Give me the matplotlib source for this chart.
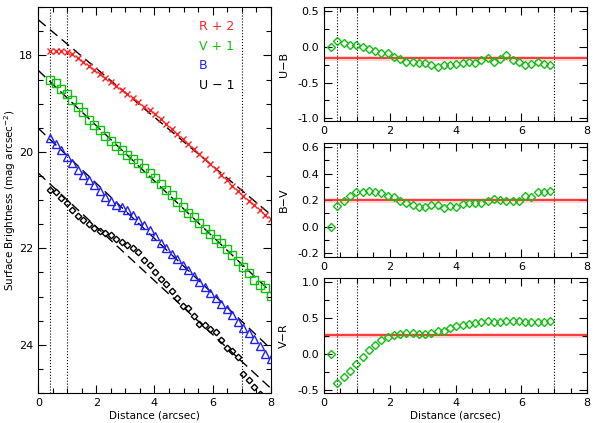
import matplotlib.pyplot as plt
from matplotlib.ticker import MultipleLocator

# radial sampling (arcsec)
radius = [0.22, 0.41, 0.60, 0.79, 0.98, 1.17, 1.36, 1.55, 1.74, 1.93,
          2.12, 2.31, 2.50, 2.69, 2.88, 3.07, 3.26, 3.45, 3.64, 3.83,
          4.02, 4.21, 4.40, 4.59, 4.78, 4.97, 5.16, 5.35, 5.54, 5.73,
          5.92, 6.11, 6.30, 6.49, 6.68, 6.87, 7.06, 7.25, 7.44, 7.63,
          7.82, 8.01]

# surface brightness profiles (offset), start at radius[1]
r_mag = [17.90, 17.90, 17.91, 17.93, 17.98, 18.06, 18.14, 18.22, 18.30, 18.39,
         18.47, 18.55, 18.63, 18.71, 18.80, 18.88, 18.97, 19.06, 19.14, 19.22,
         19.32, 19.42, 19.53, 19.63, 19.73, 19.84, 19.94, 20.04, 20.15, 20.25,
         20.36, 20.47, 20.59, 20.70, 20.81, 20.92, 21.02, 21.11, 21.20, 21.30,
         21.39]
v_mag = [18.50, 18.57, 18.69, 18.80, 18.92, 19.07, 19.17, 19.33, 19.45, 19.55,
         19.66, 19.77, 19.87, 19.97, 20.06, 20.15, 20.24, 20.34, 20.44, 20.55,
         20.66, 20.78, 20.90, 21.03, 21.15, 21.26, 21.36, 21.47, 21.59, 21.70,
         21.80, 21.89, 22.01, 22.13, 22.26, 22.39, 22.52, 22.65, 22.75, 22.83,
         22.99]
b_mag = [19.71, 19.84, 19.96, 20.10, 20.22, 20.37, 20.48, 20.59, 20.69, 20.82,
         20.93, 21.02, 21.10, 21.15, 21.21, 21.31, 21.41, 21.51, 21.62, 21.74,
         21.88, 21.99, 22.11, 22.23, 22.34, 22.45, 22.57, 22.70, 22.81, 22.92,
         23.03, 23.15, 23.26, 23.39, 23.52, 23.65, 23.75, 23.87, 24.03, 24.19,
         24.30]
u_mag = [20.80, 20.84, 20.95, 21.07, 21.20, 21.32, 21.42, 21.50, 21.58, 21.63,
         21.69, 21.73, 21.80, 21.87, 21.94, 22.00, 22.08, 22.25, 22.35, 22.49,
         22.63, 22.74, 22.88, 23.03, 23.19, 23.24, 23.40, 23.56, 23.60, 23.67,
         23.74, 23.90, 24.06, 24.13, 24.26, 24.60, 24.74, 24.88, 25.02]

# linear fits: value at 0 and at 8 arcsec
fit_start = [17.26, 18.31, 19.51, 20.44]
fit_end = [21.30, 22.90, 24.08, 24.90]

# colour profiles, start at radius[0]
ub = [0.00, 0.08, 0.06, 0.03, 0.03, 0.00, -0.03, -0.06, -0.09, -0.09,
      -0.14, -0.17, -0.21, -0.21, -0.22, -0.22, -0.25, -0.28, -0.25, -0.26,
      -0.24, -0.22, -0.21, -0.22, -0.19, -0.15, -0.21, -0.17, -0.12, -0.19,
      -0.21, -0.25, -0.24, -0.21, -0.24, -0.25]
bv = [0.00, 0.155, 0.19, 0.23, 0.26, 0.26, 0.27, 0.26, 0.25, 0.23,
      0.225, 0.19, 0.175, 0.16, 0.15, 0.15, 0.16, 0.16, 0.14, 0.155,
      0.15, 0.17, 0.175, 0.175, 0.18, 0.19, 0.21, 0.20, 0.195, 0.195,
      0.195, 0.23, 0.225, 0.26, 0.26, 0.27]
vr = [0.00, -0.40, -0.32, -0.24, -0.14, -0.04, 0.05, 0.12, 0.19, 0.23,
      0.26, 0.28, 0.29, 0.29, 0.28, 0.28, 0.29, 0.31, 0.32, 0.36,
      0.38, 0.40, 0.41, 0.43, 0.44, 0.45, 0.44, 0.44, 0.45, 0.46,
      0.45, 0.44, 0.44, 0.44, 0.44, 0.46]
mean_colours = [-0.16, 0.20, 0.26]
colour_names = ['U\u2212B', 'B\u2212V', 'V\u2212R']

rings = [0.4, 1.0, 7.0]

red = '#ff2020'
green = '#10c010'
blue = '#2020ff'

fig = plt.figure(figsize=(5.98, 4.23), dpi=100)


def style_axis(ax, xminor, ymajor, yminor):
    ax.set_xlim(0, 8)
    ax.xaxis.set_major_locator(MultipleLocator(2))
    ax.xaxis.set_minor_locator(MultipleLocator(xminor))
    ax.yaxis.set_major_locator(MultipleLocator(ymajor))
    ax.yaxis.set_minor_locator(MultipleLocator(yminor))
    ax.tick_params(which='both', direction='in', top=True, right=True,
                   labelsize=8, width=0.8)
    ax.tick_params(which='major', length=6)
    ax.tick_params(which='minor', length=3.5)
    for s in ax.spines.values():
        s.set_linewidth(0.8)
    for r in rings:
        ax.axvline(r, color='k', ls=':', lw=0.8)


# ---- left panel: surface brightness profiles
ax = fig.add_axes([0.064, 0.0709, 0.3886, 0.912])
style_axis(ax, 0.5, 2, 0.5)
ax.set_ylim(25, 17)

for y0, y1 in zip(fit_start, fit_end):
    ax.plot([0, 8], [y0, y1], color='k', lw=1.0, dashes=(7, 4))

ax.plot(radius[1:1 + len(r_mag)], r_mag, ls='none', marker='x', ms=5,
        mec=red, mew=1.0)
ax.plot(radius[1:1 + len(v_mag)], v_mag, ls='none', marker='s', ms=6,
        mfc='none', mec=green, mew=1.0)
ax.plot(radius[1:1 + len(b_mag)], b_mag, ls='none', marker='^', ms=5.5,
        mfc='none', mec=blue, mew=1.0)
ax.plot(radius[1:1 + len(u_mag)], u_mag, ls='none', marker='D', ms=3.3,
        mfc='none', mec='k', mew=1.0)

ax.text(0.69, 0.949, 'R + 2', color=red, fontsize=9, transform=ax.transAxes, va='center')
ax.text(0.69, 0.897, 'V + 1', color=green, fontsize=9, transform=ax.transAxes, va='center')
ax.text(0.69, 0.848, 'B', color=blue, fontsize=9, transform=ax.transAxes, va='center')
ax.text(0.69, 0.796, 'U \u2212 1', color='k', fontsize=9, transform=ax.transAxes, va='center')

ax.set_xlabel('Distance (arcsec)', fontsize=7.5, labelpad=2)
ax.set_ylabel('Surface Brightness (mag arcsec$^{-2}$)', fontsize=7.5, labelpad=1)

# ---- right panels: colour profiles
panels = [
    ([0.5418, 0.714, 0.4403, 0.2695], ub, (-1.04, 0.56), 0.5, 0.25),
    ([0.5418, 0.3924, 0.4403, 0.2695], bv, (-0.23, 0.63), 0.2, 0.1),
    ([0.5418, 0.0716, 0.4403, 0.271], vr, (-0.54, 1.05), 0.5, 0.25),
]
for k, (pos, colour, ylim, ymaj, ymin) in enumerate(panels):
    cax = fig.add_axes(pos)
    style_axis(cax, 0.5, ymaj, ymin)
    cax.set_ylim(*ylim)
    cax.yaxis.set_major_formatter(plt.FormatStrFormatter('%.1f'))
    cax.axhline(mean_colours[k], color=red, lw=3.5, alpha=0.2)
    cax.axhline(mean_colours[k], color=red, lw=1.2)
    cax.plot(radius[:len(colour)], colour, ls='none', marker='D', ms=4.2,
             mfc='none', mec=green, mew=1.0)
    cax.set_ylabel(colour_names[k], fontsize=8, labelpad=6)
    if k == 2:
        cax.set_xlabel('Distance (arcsec)', fontsize=7.5, labelpad=2)

fig.savefig('out.png', dpi=100)
